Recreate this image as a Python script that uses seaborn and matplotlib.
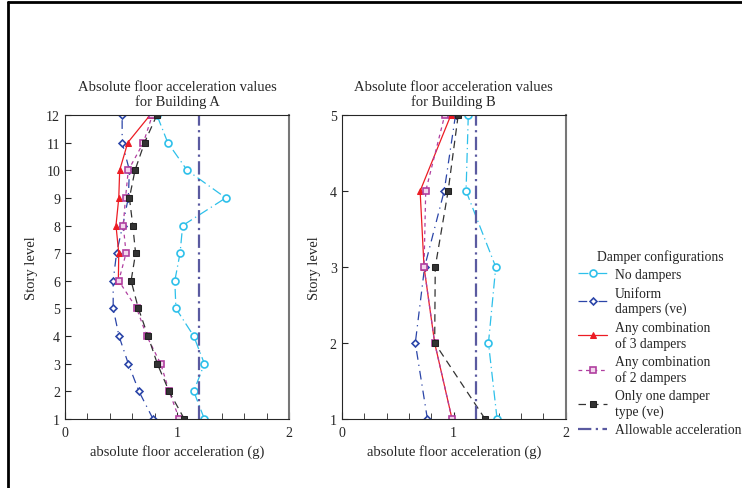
import matplotlib
matplotlib.use("Agg")
import matplotlib.pyplot as plt
from matplotlib.lines import Line2D
from matplotlib.ticker import MultipleLocator
import seaborn as sns
import pandas as pd

# Building A, story levels 1..12
levels_a = list(range(1, 13))
no_dampers_a = [1.244, 1.149, 1.244, 1.149, 0.99, 0.98, 1.027, 1.05, 1.435, 1.09, 0.917, 0.82]
uniform_a = [0.786, 0.66, 0.565, 0.482, 0.43, 0.43, 0.46, 0.515, 0.565, 0.575, 0.51, 0.51]
comb3_levels_a = [6, 7, 8, 9, 10, 11, 12]
comb3_a = [0.476, 0.48, 0.455, 0.48, 0.488, 0.56, 0.76]
comb2_a = [1.02, 0.93, 0.854, 0.73, 0.64, 0.48, 0.545, 0.52, 0.54, 0.565, 0.70, 0.78]
one_type_a = [1.065, 0.929, 0.824, 0.741, 0.655, 0.59, 0.63, 0.605, 0.575, 0.625, 0.71, 0.82]

# Building B, story levels 1..5
levels_b = [1, 2, 3, 4, 5]
no_dampers_b = [1.387, 1.31, 1.375, 1.11, 1.13]
uniform_b = [0.765, 0.657, 0.74, 0.915, 1.016]
comb3_b = [0.985, 0.83, 0.735, 0.70, 0.975]
comb2_b = [0.985, 0.83, 0.735, 0.75, 0.92]
one_type_b = [1.28, 0.83, 0.835, 0.95, 1.04]

allowable = 1.2

series_names = ["No dampers", "Uniform\ndampers (ve)", "Any combination\nof 3 dampers",
                "Any combination\nof 2 dampers", "Only one damper\ntype (ve)"]

sns.set_style("ticks")
plt.rcParams['font.family'] = ['Liberation Serif', 'DejaVu Serif']
plt.rcParams['font.size'] = 10

styles = [
    dict(color='#2ec0ea', linestyle=(0, (8, 3, 1, 3)), marker='o', markersize=5,
         markerfacecolor='white', markeredgecolor='#2ec0ea', markeredgewidth=1.2),
    dict(color='#2b45a8', linestyle=(0, (7, 4, 1, 4)), marker='D', markersize=3.5,
         markerfacecolor='white', markeredgecolor='#2b45a8', markeredgewidth=1.2),
    dict(color='#ec1c24', linestyle='-', marker='^', markersize=4.5,
         markerfacecolor='#ec1c24', markeredgecolor='#ec1c24'),
    dict(color='#b03fa0', linestyle=(0, (3, 3)), marker='s', markersize=5,
         markerfacecolor='#f2d6ec', markeredgecolor='#b03fa0', markeredgewidth=1.2),
    dict(color='#333333', linestyle=(0, (6, 4)), marker='s', markersize=5,
         markerfacecolor='#333333', markeredgecolor='#222222'),
]

fig = plt.figure(figsize=(7.42, 4.89), dpi=100)
ax_a = fig.add_axes([0.0876, 0.1411, 0.302, 0.6217])
ax_b = fig.add_axes([0.4605, 0.1411, 0.302, 0.6217])


def draw_building(ax, levels, series, title, nlev):
    for (lev, vals), name, st in zip(series, series_names, styles):
        df = pd.DataFrame({'acc': vals, 'level': lev})
        sns.lineplot(data=df, x='acc', y='level', orient='y', estimator=None,
                     linewidth=0.9, ax=ax, label=name, **st)
    ax.axvline(allowable, color='#5a5aa0', linewidth=1.6, linestyle=(0, (6, 2, 1, 2)),
               label='Allowable acceleration')
    ax.set_xlim(0, 2)
    ax.set_ylim(1, nlev)
    ax.set_xticks([0, 1, 2])
    ax.xaxis.set_minor_locator(MultipleLocator(0.2))
    ax.set_yticks(levels)
    ax.tick_params(axis='both', which='both', direction='in', top=False, right=False,
                   labelsize=10)
    ax.tick_params(axis='x', which='major', length=5, pad=5)
    ax.tick_params(axis='x', which='minor', length=4)
    ax.tick_params(axis='y', length=4)
    ax.spines['right'].set_color('#777777')
    ax.spines['right'].set_linewidth(1.5)
    ax.set_xlabel('absolute floor acceleration (g)', fontsize=10.5, labelpad=4)
    ax.set_ylabel('Story level', fontsize=10.5, labelpad=6)
    ax.set_title(title, fontsize=10.5, pad=7, linespacing=1.15)
    ax.get_legend().remove()


draw_building(ax_a, levels_a,
              [(levels_a, no_dampers_a), (levels_a, uniform_a), (comb3_levels_a, comb3_a),
               (levels_a, comb2_a), (levels_a, one_type_a)],
              'Absolute floor acceleration values\nfor Building A', 12)
draw_building(ax_b, levels_b,
              [(levels_b, no_dampers_b), (levels_b, uniform_b), (levels_b, comb3_b),
               (levels_b, comb2_b), (levels_b, one_type_b)],
              'Absolute floor acceleration values\nfor Building B', 5)

handles, labels = ax_b.get_legend_handles_labels()
fig.legend(handles, labels, title='Damper configurations', loc='upper left',
           bbox_to_anchor=(0.772, 0.500), frameon=False, fontsize=9.8, title_fontsize=9.8,
           handlelength=2.1, handletextpad=0.6, labelspacing=0.4, borderaxespad=0)

# partial border of the original frame
fig.add_artist(Line2D([0.011, 0.011], [0, 0.993], transform=fig.transFigure, color='black', linewidth=2))
fig.add_artist(Line2D([0.011, 1.0], [0.993, 0.993], transform=fig.transFigure, color='black', linewidth=2))

fig.savefig('out.png', dpi=100)
